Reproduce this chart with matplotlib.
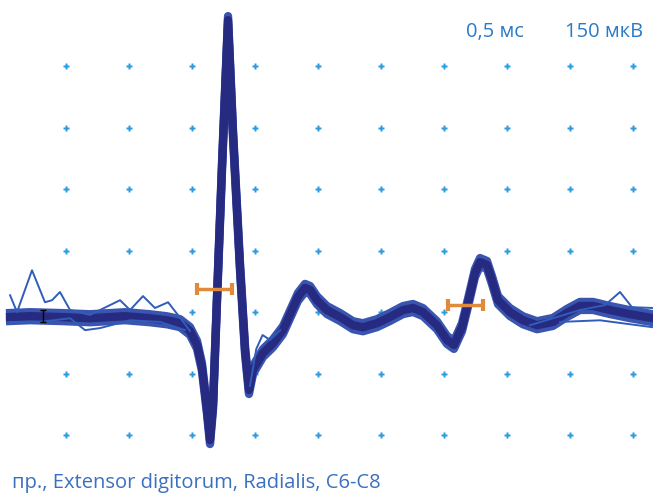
import matplotlib.pyplot as plt
from matplotlib.transforms import offset_copy

# time in ms, amplitude in uV
t_main = [-0.444, -0.286, -0.048, 0.190, 0.468, 0.667, 0.802, 0.905, 0.984, 1.040,
          1.079, 1.119, 1.143, 1.167, 1.198, 1.238, 1.286, 1.325, 1.381, 1.421,
          1.452, 1.484, 1.563, 1.643, 1.722, 1.794, 1.841, 1.897, 1.937, 1.992,
          2.071, 2.175, 2.278, 2.357, 2.468, 2.571, 2.675, 2.754, 2.833, 2.944,
          3.024, 3.079, 3.143, 3.190, 3.246, 3.286, 3.341, 3.381, 3.429, 3.524,
          3.627, 3.738, 3.865, 3.976, 4.079, 4.183, 4.317, 4.476, 4.659]
v_main = [-12, -10, -12, -15, -10, -15, -20, -27, -46, -80,
          -134, -239, -312, -227, 29, 354, 712, 437, 110, -93,
          -190, -141, -100, -76, -44, 5, 37, 59, 54, 29,
          5, -12, -32, -37, -27, -12, 5, 10, 0, -32,
          -68, -80, -37, 22, 95, 122, 115, 78, 29, 0,
          -20, -32, -24, -2, 15, 15, 5, -5, -15]

t_a = [-0.444, -0.389, -0.270, -0.167, -0.111, -0.048, 0.032, 0.190, 0.349, 0.429,
       0.508, 0.611, 0.706, 0.810, 0.921, 0.984]
v_a = [41, 0, 102, 24, 29, 49, 5, -7, 17, 29, 5, 39, 10, 24, -20, -46]

t_b = [-0.444, -0.206, 0.032, 0.151, 0.270, 0.508, 0.746, 0.944]
v_b = [-24, -24, -15, -44, -39, -20, -24, -44]

t_c = [3.683, 4.079, 4.278, 4.397, 4.492, 4.659]
v_c = [-32, 5, 17, 49, 12, 10]

t_d = [3.921, 4.238, 4.659]
v_d = [-24, -20, -37]

t_e = [1.46, 1.51, 1.56, 1.62, 1.70]
v_e = [-180, -90, -56, -68, -44]

grid_t = [0, 0.5, 1.0, 1.5, 2.0, 2.5, 3.0, 3.5, 4.0, 4.5]
grid_v = [600, 450, 300, 150, 0, -150, -300]

markers_t = [1.18, 3.17]
markers_v = [56, 17]
marker_half = 0.14

fig = plt.figure(figsize=(6.53, 4.95), dpi=100)
ax = fig.add_axes([0, 0, 1, 1])
ax.set_xlim(-0.524, 4.659)
ax.set_ylim(-446, 761)
ax.axis('off')

for v in grid_v:
    ax.plot(grid_t, [v] * len(grid_t), ls='none', marker='P', ms=4.5,
            color='#2b9be0', mec='none')

# bundle of superimposed sweeps
for dy in (-4, 4):
    tr = offset_copy(ax.transData, fig=fig, y=dy, units='dots')
    ax.plot(t_main, v_main, color='#3a55b0', lw=6, transform=tr,
            solid_joinstyle='round')
ax.plot(t_main, v_main, color='#262a80', lw=6, solid_joinstyle='round')
for tt, vv in [(t_a, v_a), (t_b, v_b), (t_c, v_c), (t_d, v_d), (t_e, v_e)]:
    ax.plot(tt, vv, color='#2f5db8', lw=1.4, solid_joinstyle='round')

ax.errorbar(markers_t, markers_v, xerr=marker_half, fmt='none', ecolor='#e08a3c',
            elinewidth=2.5, capsize=4, capthick=3)
ax.errorbar([-0.18], [-10], yerr=14, fmt='none', ecolor='black', elinewidth=1,
            capsize=2, capthick=1)

fig.text(0.714, 0.935, '0,5 мс', color='#2a7ac8', fontsize=14.5,
         family='Open Sans', va='center')
fig.text(0.865, 0.935, '150 мкВ', color='#2a7ac8', fontsize=14.5,
         family='Open Sans', va='center')
fig.text(0.018, 0.024, 'пр., Extensor digitorum, Radialis, C6-C8', color='#3a70c0',
         fontsize=14.5, family='Open Sans', va='center')

fig.savefig('out.png', dpi=100)
